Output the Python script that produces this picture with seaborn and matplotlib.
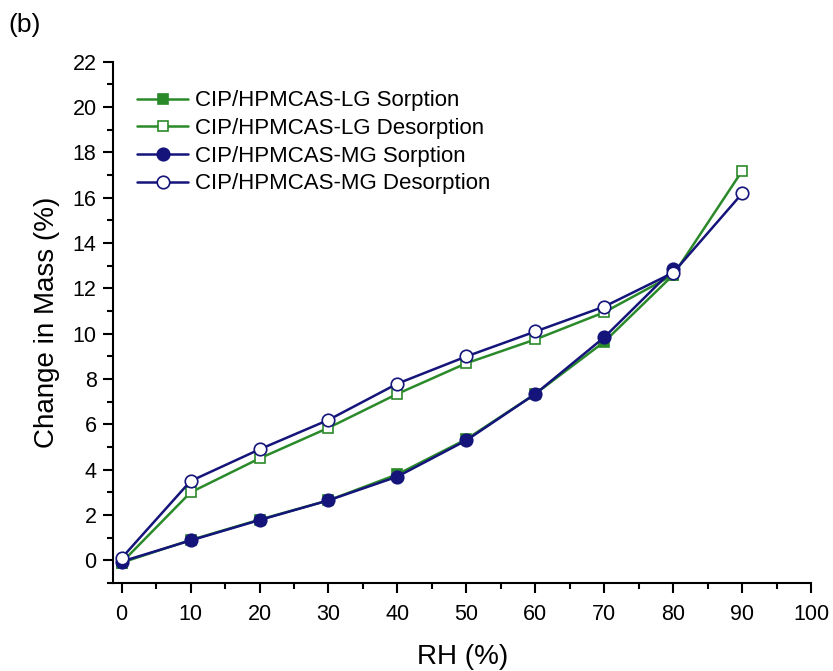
import numpy as np
import pandas as pd
import matplotlib.pyplot as plt
from matplotlib.ticker import MultipleLocator
import seaborn as sns

sns.set_theme(style = 'ticks')
plt.rcParams['font.family'] = ['Liberation Sans', 'DejaVu Sans']
plt.rcParams['text.color'] = 'black'
plt.rcParams['axes.labelcolor'] = 'black'
plt.rcParams['xtick.color'] = 'black'
plt.rcParams['ytick.color'] = 'black'

rh_sorp = [0, 10, 20, 30, 40, 50, 60, 70, 80]
rh_desorp = [0, 10, 20, 30, 40, 50, 60, 70, 80, 90]

lg_sorption = [-0.1, 0.9, 1.8, 2.65, 3.8, 5.35, 7.35, 9.65, 12.6]
lg_desorption = [-0.1, 3.0, 4.5, 5.85, 7.35, 8.7, 9.75, 10.95, 12.6, 17.2]
mg_sorption = [-0.05, 0.88, 1.78, 2.65, 3.7, 5.3, 7.35, 9.85, 12.85]
mg_desorption = [0.1, 3.5, 4.9, 6.2, 7.8, 9.0, 10.1, 11.2, 12.7, 16.2]

labels = ['CIP/HPMCAS-LG Sorption', 'CIP/HPMCAS-LG Desorption',
          'CIP/HPMCAS-MG Sorption', 'CIP/HPMCAS-MG Desorption']

green = '#2a8a2a'
navy = '#14147a'

series = [
    (rh_sorp, lg_sorption, labels[0], green, 's', green, 7.5),
    (rh_desorp, lg_desorption, labels[1], green, 's', 'white', 7.5),
    (rh_sorp, mg_sorption, labels[2], navy, 'o', navy, 9),
    (rh_desorp, mg_desorption, labels[3], navy, 'o', 'white', 9),
]

fig = plt.figure(figsize = (8.33, 6.71), dpi = 100)
ax = fig.add_axes([0.136, 0.131, 0.838, 0.777])

for x, y, lab, col, mk, face, ms in series:
    df = pd.DataFrame({'RH': x, 'Mass': y})
    sns.lineplot(data = df, x = 'RH', y = 'Mass', ax = ax, color = col, marker = mk,
                 markerfacecolor = face, markeredgecolor = col, markersize = ms,
                 markeredgewidth = 1.2, linewidth = 1.8, label = lab)

ax.set_xlim(-1.2, 100)
ax.set_ylim(-1, 22)
ax.xaxis.set_major_locator(MultipleLocator(10))
ax.xaxis.set_minor_locator(MultipleLocator(5))
ax.yaxis.set_major_locator(MultipleLocator(2))
ax.yaxis.set_minor_locator(MultipleLocator(1))
ax.tick_params(which = 'major', direction = 'out', length = 7, width = 1.5, labelsize = 15.5, pad = 5)
ax.tick_params(which = 'minor', direction = 'out', length = 4, width = 1.5)
ax.tick_params(axis = 'x', which = 'major', pad = 8)
for s in ['left', 'bottom']:
    ax.spines[s].set_linewidth(1.5)
    ax.spines[s].set_color('black')
sns.despine(ax = ax)

ax.set_xlabel('RH (%)', fontsize = 20, labelpad = 14)
ax.set_ylabel('Change in Mass (%)', fontsize = 20, labelpad = 9)

ax.legend(loc = 'upper left', bbox_to_anchor = (0.012, 0.975), frameon = False, fontsize = 16,
          handlelength = 2.3, handletextpad = 0.3, labelspacing = 0.3, borderaxespad = 0.3)

fig.text(0.01, 0.962, '(b)', fontsize = 19, va = 'center')

fig.savefig('out.png', dpi = 100)
